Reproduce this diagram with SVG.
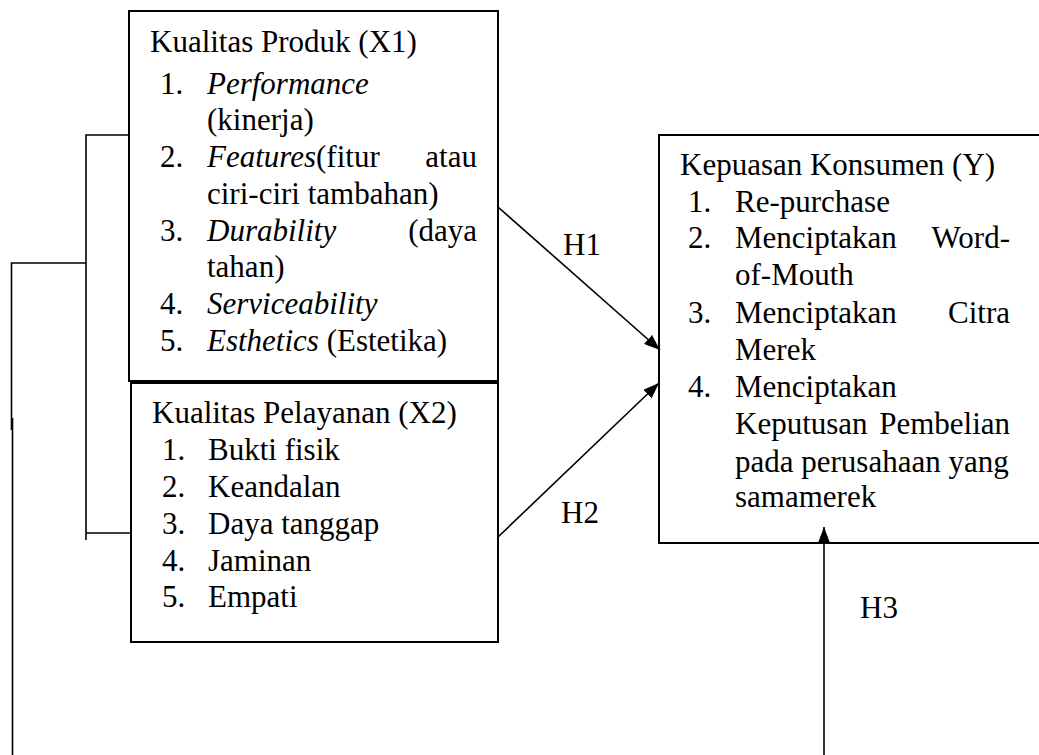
<svg xmlns="http://www.w3.org/2000/svg" width="1039" height="755" viewBox="0 0 1039 755" font-family="'Liberation Serif','Times New Roman',serif">
<style>
.box{fill:#fff;stroke:#000;stroke-width:2}
.ln{fill:none;stroke:#000;stroke-width:1.6}
text{font-family:"Liberation Serif","Times New Roman",serif;font-size:31px;fill:#000}
.i{font-style:italic}
</style>
<defs>
<marker id="ah" viewBox="0 0 16 12" refX="16" refY="6" markerWidth="16" markerHeight="12" markerUnits="userSpaceOnUse" orient="auto">
<path d="M0,0 L16,6 L0,12 Z" fill="#000"/>
</marker>
</defs>
<rect width="1039" height="755" fill="#fff"/>
<g id="x1">
<rect class="box" x="129" y="11" width="369" height="370"/>
<text x="150" y="52">Kualitas Produk (X1)</text>
<text x="160" y="94">1.</text><text x="207" y="94" class="i">Performance</text>
<text x="207" y="130">(kinerja)</text>
<text x="160" y="167">2.</text><text x="207" y="167"><tspan class="i">Features</tspan>(fitur</text><text x="477" y="167" text-anchor="end">atau</text>
<text x="207" y="204">ciri-ciri tambahan)</text>
<text x="160" y="241">3.</text><text x="207" y="241" class="i">Durability</text><text x="477" y="241" text-anchor="end">(daya</text>
<text x="207" y="277">tahan)</text>
<text x="160" y="314">4.</text><text x="207" y="314" class="i">Serviceability</text>
<text x="160" y="351">5.</text><text x="207" y="351"><tspan class="i">Esthetics</tspan> (Estetika)</text>
</g>
<g id="x2">
<rect class="box" x="131" y="383" width="367" height="259"/>
<text x="152" y="423">Kualitas Pelayanan (X2)</text>
<text x="162" y="460">1.</text><text x="208" y="460">Bukti fisik</text>
<text x="162" y="497">2.</text><text x="208" y="497">Keandalan</text>
<text x="162" y="534">3.</text><text x="208" y="534">Daya tanggap</text>
<text x="162" y="571">4.</text><text x="208" y="571">Jaminan</text>
<text x="162" y="607">5.</text><text x="208" y="607">Empati</text>
</g>
<g id="y">
<path class="box" d="M1045,135 L659,135 L659,543 L1045,543"/>
<text x="680" y="175">Kepuasan Konsumen (Y)</text>
<text x="688" y="212">1.</text><text x="735" y="212">Re-purchase</text>
<text x="688" y="248">2.</text><text x="735" y="248">Menciptakan</text><text x="1010" y="248" text-anchor="end">Word-</text>
<text x="735" y="285">of-Mouth</text>
<text x="688" y="323">3.</text><text x="735" y="323">Menciptakan</text><text x="1010" y="323" text-anchor="end">Citra</text>
<text x="735" y="360">Merek</text>
<text x="688" y="397">4.</text><text x="735" y="397">Menciptakan</text>
<text x="735" y="434">Keputusan</text><text x="1010" y="434" text-anchor="end">Pembelian</text>
<text x="735" y="472">pada perusahaan yang</text>
<text x="735" y="507">samamerek</text>
</g>
<g id="connectors">
<polyline class="ln" points="129,135 86,135 86,540"/>
<line class="ln" x1="86" y1="533" x2="131" y2="533"/>
<polyline class="ln" points="86,263 11.5,263 11.5,430"/>
<line class="ln" x1="12.5" y1="418" x2="12.5" y2="755"/>
<line class="ln" x1="498" y1="207" x2="660" y2="350" marker-end="url(#ah)"/>
<line class="ln" x1="498" y1="537" x2="659" y2="383" marker-end="url(#ah)"/>
<line class="ln" x1="824" y1="755" x2="824" y2="527" marker-end="url(#ah)"/>
<text x="563" y="255">H1</text>
<text x="561" y="523">H2</text>
<text x="860" y="618">H3</text>
</g>
</svg>
